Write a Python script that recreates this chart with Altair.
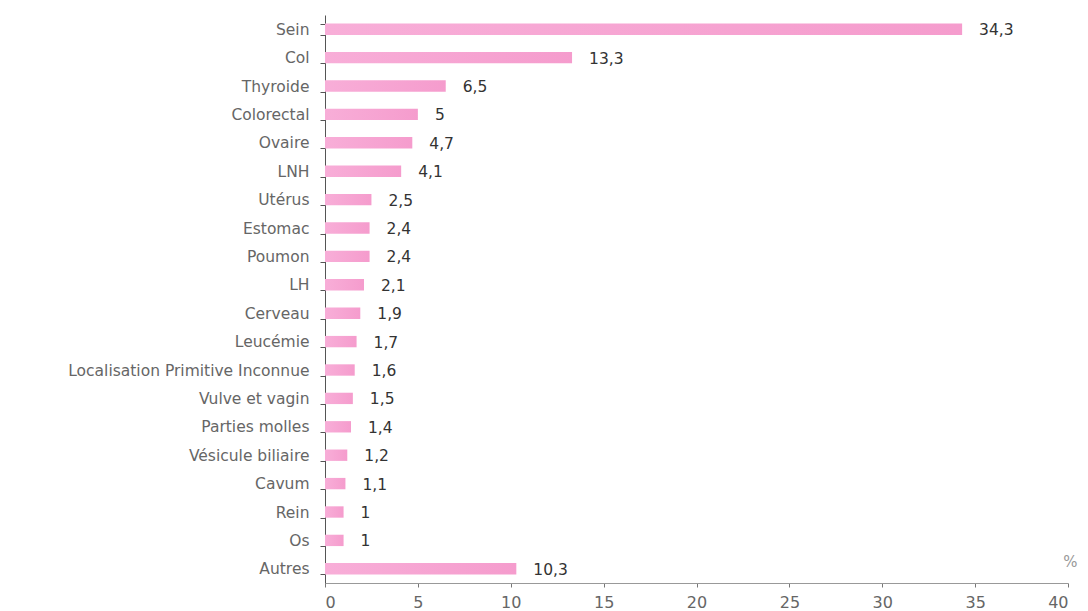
import altair as alt
import pandas as pd

categories = ["Sein", "Col", "Thyroide", "Colorectal", "Ovaire", "LNH", "Utérus",
              "Estomac", "Poumon", "LH", "Cerveau", "Leucémie",
              "Localisation Primitive Inconnue", "Vulve et vagin", "Parties molles",
              "Vésicule biliaire", "Cavum", "Rein", "Os", "Autres"]
values = [34.3, 13.3, 6.5, 5, 4.7, 4.1, 2.5, 2.4, 2.4, 2.1, 1.9, 1.7, 1.6, 1.5,
          1.4, 1.2, 1.1, 1, 1, 10.3]
x_ticks = [0, 5, 10, 15, 20, 25, 30, 35, 40]

df = pd.DataFrame({
    "cat": categories,
    "val": values,
    "lab": [f"{v:g}".replace(".", ",") for v in values],
})

FONT = "DejaVu Sans"

y_enc = alt.Y("cat:N", sort=categories, title=None,
              scale=alt.Scale(paddingInner=0.6, paddingOuter=0.3),
              axis=alt.Axis(tickBand="extent", labelFont=FONT, labelFontSize=15.5,
                            labelColor="#666666", labelPadding=11, tickSize=5,
                            tickColor="#555555", domainColor="#555555",
                            labelLimit=400, grid=False))
x_enc = alt.X("val:Q", title="%", scale=alt.Scale(domain=[0, 40], nice=False),
              axis=alt.Axis(values=x_ticks, labelFont=FONT, labelFontSize=16,
                            labelColor="#666666", tickSize=4, tickColor="#777777",
                            domainColor="#999999", grid=False, labelPadding=7,
                            titleAnchor="end", titleAlign="right", titleY=-14,
                            titleBaseline="bottom",
                            titleX=752, titleFont=FONT, titleFontSize=15,
                            titleFontWeight="normal", titleColor="#999999"))

bars = alt.Chart(df).mark_bar(
    color=alt.Gradient(gradient="linear", x1=0, x2=1, y1=0, y2=0,
                       stops=[alt.GradientStop(color="#F8AED8", offset=0),
                              alt.GradientStop(color="#F59CCD", offset=1)])
).encode(x=x_enc, y=y_enc)

text = alt.Chart(df).mark_text(align="left", dx=17, dy=1, font=FONT, fontSize=15.5,
                               color="#333333").encode(
    x="val:Q", y=alt.Y("cat:N", sort=categories), text="lab:N")

chart = alt.layer(bars, text).properties(
    width=743, height=568,
    autosize=alt.AutoSizeParams(type="none"),
    padding={"left": 317, "top": 7, "right": 12, "bottom": 28},
).configure(background="white").configure_view(stroke=None)

chart.save("out.html", embed_options={"renderer": "svg", "actions": False})
